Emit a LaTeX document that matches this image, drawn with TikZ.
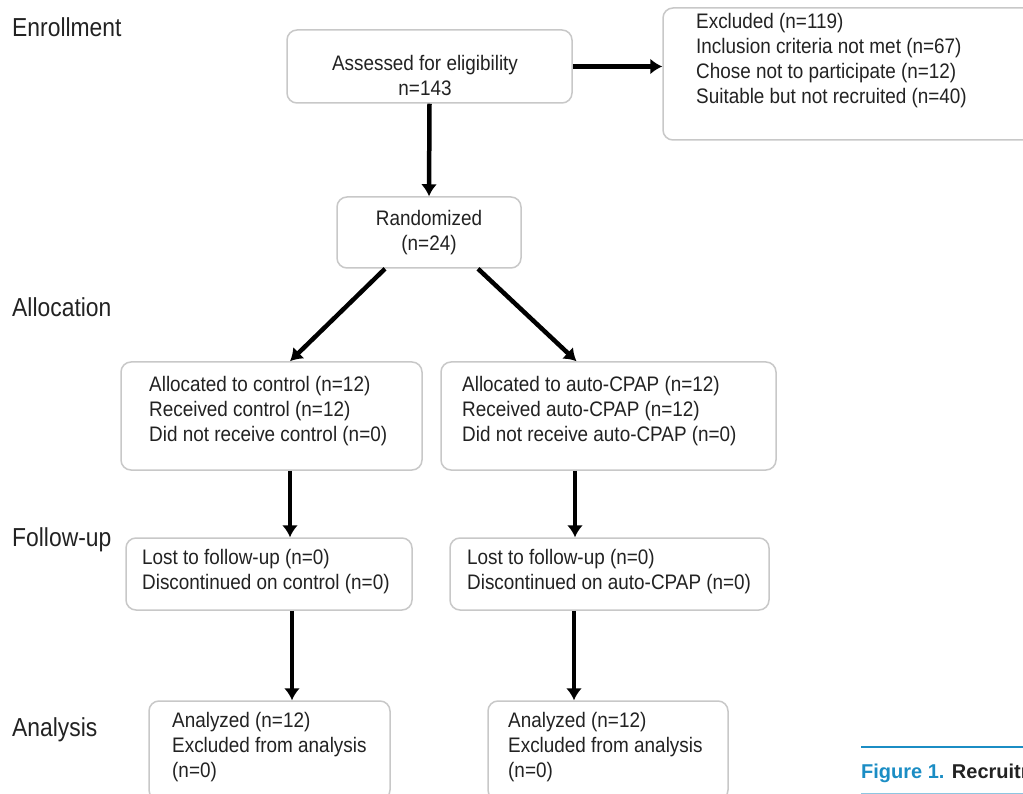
\documentclass[tikz,border=0pt]{standalone}
\usepackage{fontspec}
\setmainfont{Liberation Sans}
\newfontfamily\boxfont{Liberation Sans}[FakeStretch=0.9]
\newfontfamily\stagefont{Liberation Sans}[FakeStretch=0.88]
\usetikzlibrary{arrows.meta}
\definecolor{boxgray}{HTML}{C8C8C8}
\definecolor{capblue}{HTML}{1B8DC4}
\definecolor{ink}{HTML}{222222}
\begin{document}
\begin{tikzpicture}[x=1pt,y=-1pt,
  box/.style={draw=boxgray, line width=1.5pt, rounded corners=10pt, inner sep=0pt, fill=white},
  txt/.style={font=\boxfont\fontsize{21}{25}\selectfont, align=left, inner sep=0pt, text=ink},
  stage/.style={font=\stagefont\fontsize{26}{30}\selectfont, anchor=base west, inner sep=0pt, text=ink},
  arr/.style={line width=4.5pt, -{Latex[length=12pt,width=16pt]}}]
\useasboundingbox (0,0) rectangle (1023,794);
\clip (0,0) rectangle (1023,794);
% stage labels
\node[stage] (enr) at (12,37) {Enrollment};
\node[stage] (alo) at (12,317) {Allocation};
\node[stage] (fol) at (12,546) {Follow-up};
\node[stage] (ana) at (12,736) {Analysis};
% boxes
\node[box, minimum width=285, minimum height=73] (assess) at (429.5,66.5) {};
\node[box, minimum width=377, minimum height=132] (excl) at (851.5,74) {};
\node[box, minimum width=184, minimum height=71] (rand) at (429,232.5) {};
\node[box, minimum width=301, minimum height=108] (ac) at (271.5,416) {};
\node[box, minimum width=335, minimum height=108] (aa) at (608.5,416) {};
\node[box, minimum width=286, minimum height=72] (fc) at (269,574) {};
\node[box, minimum width=319, minimum height=72] (fa) at (609.5,574) {};
\node[box, minimum width=241, minimum height=99] (nc) at (269.5,750.5) {};
\node[box, minimum width=240, minimum height=99] (na) at (608,750.5) {};
% texts
\node[txt, align=center] (tassess) at (425,75) {Assessed for eligibility\\n=143};
\node[txt, anchor=west] (texcl) at (696,61) {Excluded (n=119)\\Inclusion criteria not met (n=67)\\Chose not to participate (n=12)\\Suitable but not recruited (n=40)};
\node[txt, align=center] (trand) at (429,233) {Randomized\\(n=24)};
\node[txt, anchor=west] (tac) at (149,411.5) {Allocated to control (n=12)\\Received control (n=12)\\Did not receive control (n=0)};
\node[txt, anchor=west] (taa) at (462,411.5) {Allocated to auto-CPAP (n=12)\\Received auto-CPAP (n=12)\\Did not receive auto-CPAP (n=0)};
\node[txt, anchor=west] (tfc) at (142,572) {Lost to follow-up (n=0)\\Discontinued on control (n=0)};
\node[txt, anchor=west] (tfa) at (467,572) {Lost to follow-up (n=0)\\Discontinued on auto-CPAP (n=0)};
\node[txt, anchor=west] (tnc) at (172,747) {Analyzed (n=12)\\Excluded from analysis\\(n=0)};
\node[txt, anchor=west] (tna) at (508,747) {Analyzed (n=12)\\Excluded from analysis\\(n=0)};
% arrows
\draw[arr] (assess.east) -- (assess.east -| excl.west);
\draw[arr] (assess.south) -- (rand.north);
\draw[arr] ([xshift=-44]rand.south) -- ([xshift=18.5]ac.north);
\draw[arr] ([xshift=49]rand.south) -- ([xshift=-32]aa.north);
\draw[arr] ([xshift=18.5]ac.south) -- ([xshift=18.5]ac.south |- fc.north);
\draw[arr] ([xshift=-33.5]aa.south) -- ([xshift=-33.5]aa.south |- fa.north);
\draw[arr] ([xshift=23]fc.south) -- ([xshift=23]fc.south |- nc.north);
\draw[arr] ([xshift=-35.5]fa.south) -- ([xshift=-35.5]fa.south |- na.north);
% caption
\draw[capblue, line width=2.5pt] (861,747) -- (1030,747);
\draw[capblue!50, line width=1pt] (861,793) -- (1030,793);
\node[font=\bfseries\fontsize{20}{24}\selectfont, anchor=base west, inner sep=0pt, text=ink] (cap) at (861,778) {\textcolor{capblue}{Figure 1.} Recruitment};
\end{tikzpicture}
\end{document}
